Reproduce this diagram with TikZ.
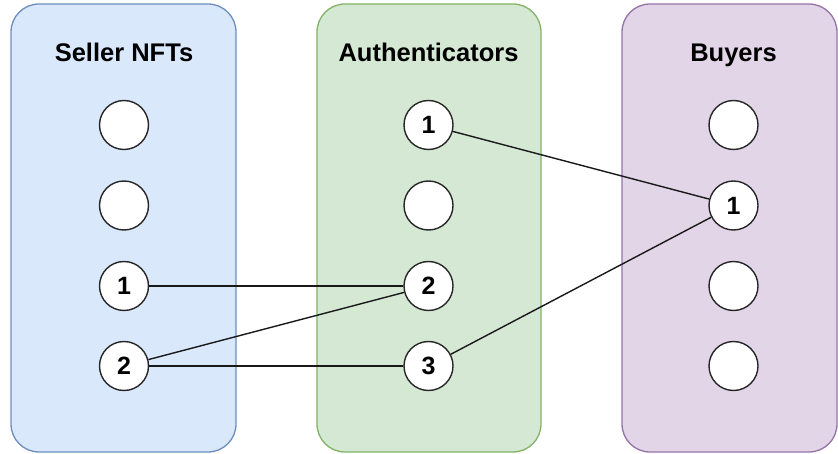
\documentclass[tikz,border=0pt]{standalone}
\usepackage{fontspec}
\setmainfont{Liberation Sans}
\usepackage{xcolor}
\usetikzlibrary{positioning}

\definecolor{sellerfill}{HTML}{DAE8FC}
\definecolor{sellerdraw}{HTML}{6C8EBF}
\definecolor{authfill}{HTML}{D5E8D4}
\definecolor{authdraw}{HTML}{82B366}
\definecolor{buyerfill}{HTML}{E1D5E7}
\definecolor{buyerdraw}{HTML}{9673A6}

\tikzset{
  panel/.style={rounded corners=28pt, line width=1.3pt},
  title/.style={anchor=base, font=\fontsize{25.5}{30}\selectfont\bfseries},
  slot/.style={circle, draw=black!85, fill=white, line width=1.4pt,
               minimum size=49pt, inner sep=0pt,
               font=\fontsize{25}{30}\selectfont\bfseries},
  link/.style={line width=1.4pt, black!90}
}

\begin{document}
\begin{tikzpicture}[x=1pt, y=-1pt]
  \useasboundingbox (0,0) rectangle (838,454);

  % Columns
  \draw[panel, draw=sellerdraw, fill=sellerfill] (11,4) rectangle (236,452);
  \draw[panel, draw=authdraw, fill=authfill] (317,4) rectangle (541,452);
  \draw[panel, draw=buyerdraw, fill=buyerfill] (622,4) rectangle (837,452);

  % Titles
  \node[title] (tseller) at (124,61.5) {Seller NFTs};
  \node[title] (tauth) at (428.5,61.5) {Authenticators};
  \node[title] (tbuyer) at (733.5,61.5) {Buyers};

  % Seller NFTs
  \node[slot] (s0) at (124,125) {};
  \node[slot] (s00) at (124,205.5) {};
  \node[slot] (s1) at (124,286) {1};
  \node[slot] (s2) at (124,366) {2};

  % Authenticators
  \node[slot] (a1) at (428.5,125) {1};
  \node[slot] (a0) at (428.5,205.5) {};
  \node[slot] (a2) at (428.5,286) {2};
  \node[slot] (a3) at (428.5,366) {3};

  % Buyers
  \node[slot] (b0) at (733.5,125) {};
  \node[slot] (b1) at (733.5,205.5) {1};
  \node[slot] (b00) at (733.5,286) {};
  \node[slot] (b000) at (733.5,366) {};

  % Links
  \draw[link] (s1) -- (a2);
  \draw[link] (s2) -- (a2);
  \draw[link] (s2) -- (a3);
  \draw[link] (a1) -- (b1);
  \draw[link] (a3) -- (b1);
\end{tikzpicture}
\end{document}
